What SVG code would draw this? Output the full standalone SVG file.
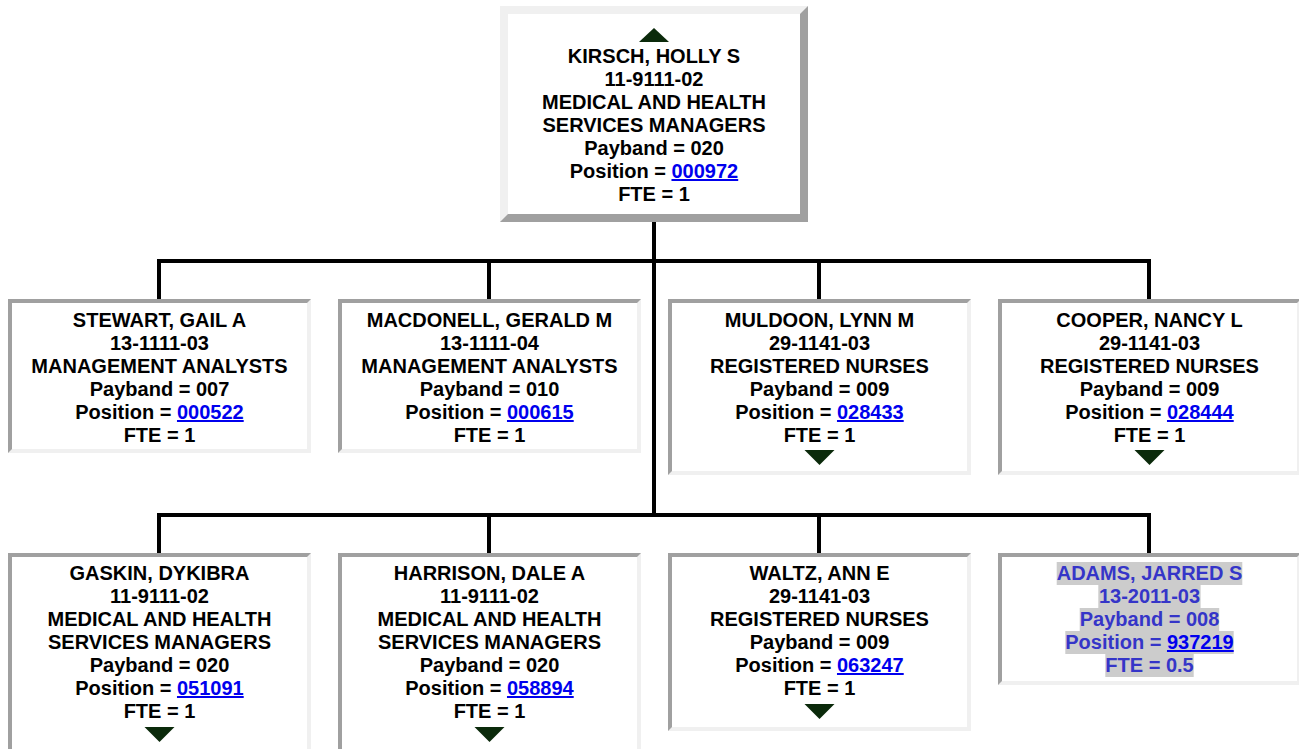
<svg xmlns="http://www.w3.org/2000/svg" width="1299" height="749" viewBox="0 0 1299 749">
<style>
.lt{fill:#f0f0f0}
.dk{fill:#a0a0a0}
.in{fill:#ffffff}
.t{font-family:"Liberation Sans",Arial,sans-serif;font-weight:bold;font-size:20px;text-anchor:middle;fill:#000}
.lnk{fill:#0000ee;text-decoration:underline}
.arr{fill:#0b2a0b}
.conn{fill:none;stroke:#000;stroke-width:4}
.hl{fill:#cccccc}
.vac{fill:#3535c8}
</style>
<rect width="1299" height="749" fill="#fff"/>
<g id="connectors" class="conn">
<path d="M654,222 V515"/>
<path d="M159,299 V261 H1149 V299"/>
<path d="M489,261 V299 M819,261 V299"/>
<path d="M159,553 V515 H1149 V553"/>
<path d="M489,515 V553 M819,515 V553"/>
</g>
<g id="kirsch">
<rect class="dk" x="500" y="6" width="308" height="216"/>
<path class="lt" d="M500,6 H808 L800,14 H508 V214 L500,222 Z"/>
<rect class="in" x="508" y="14" width="292" height="200"/>
<path class="arr" d="M654,28 L669,42 L639,42 Z"/>
<text class="t" x="654" y="63">KIRSCH, HOLLY S<tspan x="654" dy="23">11-9111-02</tspan><tspan x="654" dy="23">MEDICAL AND HEALTH</tspan><tspan x="654" dy="23">SERVICES MANAGERS</tspan><tspan x="654" dy="23">Payband = 020</tspan><tspan x="654" dy="23">Position = <tspan class="lnk">000972</tspan></tspan><tspan x="654" dy="23">FTE = 1</tspan></text>
</g>
<g id="stewart">
<rect class="lt" x="8" y="299" width="303" height="154"/>
<path class="dk" d="M8,299 H311 L307,303 H12 V449 L8,453 Z"/>
<rect class="in" x="12" y="303" width="295" height="146"/>
<text class="t" x="159.5" y="327">STEWART, GAIL A<tspan x="159.5" dy="23">13-1111-03</tspan><tspan x="159.5" dy="23">MANAGEMENT ANALYSTS</tspan><tspan x="159.5" dy="23">Payband = 007</tspan><tspan x="159.5" dy="23">Position = <tspan class="lnk">000522</tspan></tspan><tspan x="159.5" dy="23">FTE = 1</tspan></text>
</g>
<g id="macdonell">
<rect class="lt" x="338" y="299" width="303" height="154"/>
<path class="dk" d="M338,299 H641 L637,303 H342 V449 L338,453 Z"/>
<rect class="in" x="342" y="303" width="295" height="146"/>
<text class="t" x="489.5" y="327">MACDONELL, GERALD M<tspan x="489.5" dy="23">13-1111-04</tspan><tspan x="489.5" dy="23">MANAGEMENT ANALYSTS</tspan><tspan x="489.5" dy="23">Payband = 010</tspan><tspan x="489.5" dy="23">Position = <tspan class="lnk">000615</tspan></tspan><tspan x="489.5" dy="23">FTE = 1</tspan></text>
</g>
<g id="muldoon">
<rect class="lt" x="668" y="299" width="303" height="176"/>
<path class="dk" d="M668,299 H971 L967,303 H672 V471 L668,475 Z"/>
<rect class="in" x="672" y="303" width="295" height="168"/>
<text class="t" x="819.5" y="327">MULDOON, LYNN M<tspan x="819.5" dy="23">29-1141-03</tspan><tspan x="819.5" dy="23">REGISTERED NURSES</tspan><tspan x="819.5" dy="23">Payband = 009</tspan><tspan x="819.5" dy="23">Position = <tspan class="lnk">028433</tspan></tspan><tspan x="819.5" dy="23">FTE = 1</tspan></text>
<path class="arr" d="M804.5,450 H834.5 L819.5,465 Z"/>
</g>
<g id="cooper">
<rect class="lt" x="998" y="299" width="303" height="176"/>
<path class="dk" d="M998,299 H1301 L1297,303 H1002 V471 L998,475 Z"/>
<rect class="in" x="1002" y="303" width="295" height="168"/>
<text class="t" x="1149.5" y="327">COOPER, NANCY L<tspan x="1149.5" dy="23">29-1141-03</tspan><tspan x="1149.5" dy="23">REGISTERED NURSES</tspan><tspan x="1149.5" dy="23">Payband = 009</tspan><tspan x="1149.5" dy="23">Position = <tspan class="lnk">028444</tspan></tspan><tspan x="1149.5" dy="23">FTE = 1</tspan></text>
<path class="arr" d="M1134.5,450 H1164.5 L1149.5,465 Z"/>
</g>
<g id="gaskin">
<rect class="lt" x="8" y="553" width="303" height="225"/>
<path class="dk" d="M8,553 H311 L307,557 H12 V774 L8,778 Z"/>
<rect class="in" x="12" y="557" width="295" height="217"/>
<text class="t" x="159.5" y="580">GASKIN, DYKIBRA<tspan x="159.5" dy="23">11-9111-02</tspan><tspan x="159.5" dy="23">MEDICAL AND HEALTH</tspan><tspan x="159.5" dy="23">SERVICES MANAGERS</tspan><tspan x="159.5" dy="23">Payband = 020</tspan><tspan x="159.5" dy="23">Position = <tspan class="lnk">051091</tspan></tspan><tspan x="159.5" dy="23">FTE = 1</tspan></text>
<path class="arr" d="M144.5,727 H174.5 L159.5,742 Z"/>
</g>
<g id="harrison">
<rect class="lt" x="338" y="553" width="303" height="225"/>
<path class="dk" d="M338,553 H641 L637,557 H342 V774 L338,778 Z"/>
<rect class="in" x="342" y="557" width="295" height="217"/>
<text class="t" x="489.5" y="580">HARRISON, DALE A<tspan x="489.5" dy="23">11-9111-02</tspan><tspan x="489.5" dy="23">MEDICAL AND HEALTH</tspan><tspan x="489.5" dy="23">SERVICES MANAGERS</tspan><tspan x="489.5" dy="23">Payband = 020</tspan><tspan x="489.5" dy="23">Position = <tspan class="lnk">058894</tspan></tspan><tspan x="489.5" dy="23">FTE = 1</tspan></text>
<path class="arr" d="M474.5,727 H504.5 L489.5,742 Z"/>
</g>
<g id="waltz">
<rect class="lt" x="668" y="553" width="303" height="178"/>
<path class="dk" d="M668,553 H971 L967,557 H672 V727 L668,731 Z"/>
<rect class="in" x="672" y="557" width="295" height="170"/>
<text class="t" x="819.5" y="580">WALTZ, ANN E<tspan x="819.5" dy="23">29-1141-03</tspan><tspan x="819.5" dy="23">REGISTERED NURSES</tspan><tspan x="819.5" dy="23">Payband = 009</tspan><tspan x="819.5" dy="23">Position = <tspan class="lnk">063247</tspan></tspan><tspan x="819.5" dy="23">FTE = 1</tspan></text>
<path class="arr" d="M804.5,704 H834.5 L819.5,719 Z"/>
</g>
<g id="adams">
<rect class="lt" x="998" y="553" width="303" height="132"/>
<path class="dk" d="M998,553 H1301 L1297,557 H1002 V681 L998,685 Z"/>
<rect class="in" x="1002" y="557" width="295" height="124"/>
<rect class="hl" x="1056.7" y="562" width="185.6" height="23"/>
<rect class="hl" x="1098.3" y="585" width="102.3" height="23"/>
<rect class="hl" x="1079.7" y="608" width="139.5" height="23"/>
<rect class="hl" x="1065.3" y="631" width="168.4" height="23"/>
<rect class="hl" x="1105.3" y="654" width="88.4" height="23"/>
<text class="t vac" x="1149.5" y="580">ADAMS, JARRED S<tspan x="1149.5" dy="23">13-2011-03</tspan><tspan x="1149.5" dy="23">Payband = 008</tspan><tspan x="1149.5" dy="23">Position = <tspan class="lnk">937219</tspan></tspan><tspan x="1149.5" dy="23">FTE = 0.5</tspan></text>
</g>
</svg>
